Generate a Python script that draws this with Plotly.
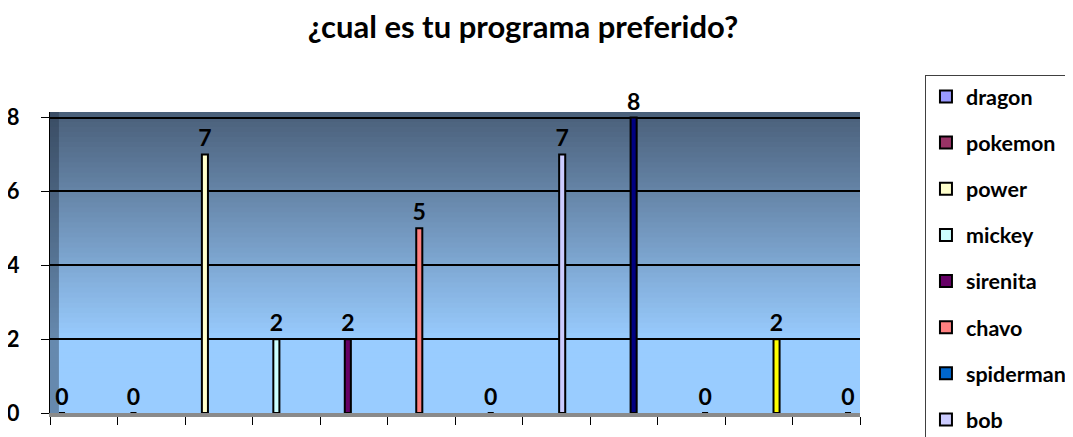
import numpy as np
import plotly.graph_objects as go

title = "¿cual es tu programa preferido?"
series_names = ["dragon", "pokemon", "power", "mickey", "sirenita", "chavo",
                "spiderman", "bob", "serie 9", "serie 10", "serie 11", "serie 12"]
values = [0, 0, 7, 2, 2, 5, 0, 7, 8, 0, 2, 0]
colors = ["#9999FF", "#993366", "#FFFFCC", "#CCFFFF", "#660066", "#FF8080",
          "#0066CC", "#CCCCFF", "#000080", "#FF00FF", "#FFFF00", "#00FFFF"]
legend_visible = 8
y_ticks = [0, 2, 4, 6, 8]

FONT = "Lato"
fig = go.Figure()
for i, (name, v, c) in enumerate(zip(series_names, values, colors)):
    fig.add_trace(go.Bar(
        x=[i], y=[v], name=name, width=0.085,
        marker=dict(color=c, line=dict(color="black", width=2)),
        text=[str(v)], textposition="outside", constraintext="none",
        textfont=dict(family=FONT, size=23, color="black", weight="bold"),
        cliponaxis=False, showlegend=i < legend_visible,
        legendgroup=name,
    ))

xmin, xmax = -0.168, 11.168
ymax = 8.15

# background gradient (dark top -> light bottom)
top = np.array([74, 95, 121])
light = np.array([153, 204, 255])
n = 60
shapes = []
for k in range(n):
    y0 = ymax * k / n
    y1 = ymax * (k + 1) / n
    ym = (y0 + y1) / 2
    t = min(max((ym - 2.0) / (ymax - 2.0), 0), 1)
    col = light + (top - light) * t
    shapes.append(dict(type="rect", xref="x domain", yref="y", x0=0, x1=1,
                       y0=y0, y1=min(y1 + 0.04, ymax), layer="below",
                       line=dict(width=0),
                       fillcolor="rgb(%d,%d,%d)" % tuple(col)))
# left wall
shapes.append(dict(type="rect", xref="x domain", yref="y domain", x0=0, x1=0.011,
                   y0=0, y1=1, layer="below", line=dict(width=0),
                   fillcolor="rgba(40,55,75,0.45)"))

# page has an 8px body margin; figure sized to fill the rest of the window
fig.update_layout(
    width=1065, height=429,
    margin=dict(l=42, r=213, t=104, b=24, autoexpand=False),
    paper_bgcolor="white", plot_bgcolor="rgba(0,0,0,0)",
    title=dict(text="<b>" + title + "</b>", x=0.4836, xanchor="center",
               xref="container", y=0.955, yanchor="middle",
               font=dict(family=FONT, size=31, color="black")),
    barmode="overlay",
    shapes=shapes,
    showlegend=True,
    legend=dict(x=1.0802, y=1.123, xanchor="left", yanchor="top",
                bordercolor="#404040", borderwidth=1, bgcolor="white",
                font=dict(family=FONT, size=21.5, color="black", weight="bold"),
                tracegroupgap=15.2, itemclick=False, itemdoubleclick=False,
                maxheight=800),
    xaxis=dict(range=[xmin, xmax], tickvals=list(np.linspace(xmin, xmax, 13)),
               showticklabels=False, ticks="outside", ticklen=8, tickcolor="black",
               showgrid=False, zeroline=False, showline=True, linecolor="#8a8a8a",
               linewidth=4, automargin=False),
    yaxis=dict(range=[0, ymax], tickvals=y_ticks, ticks="outside", ticklen=8,
               tickcolor="black", ticklabelstandoff=17, automargin=False,
               tickfont=dict(family=FONT, size=22, color="black", weight="bold"),
               showgrid=True, gridcolor="black", gridwidth=2, zeroline=False,
               showline=True, linecolor="black", linewidth=1),
)

fig.write_html("out.html")
